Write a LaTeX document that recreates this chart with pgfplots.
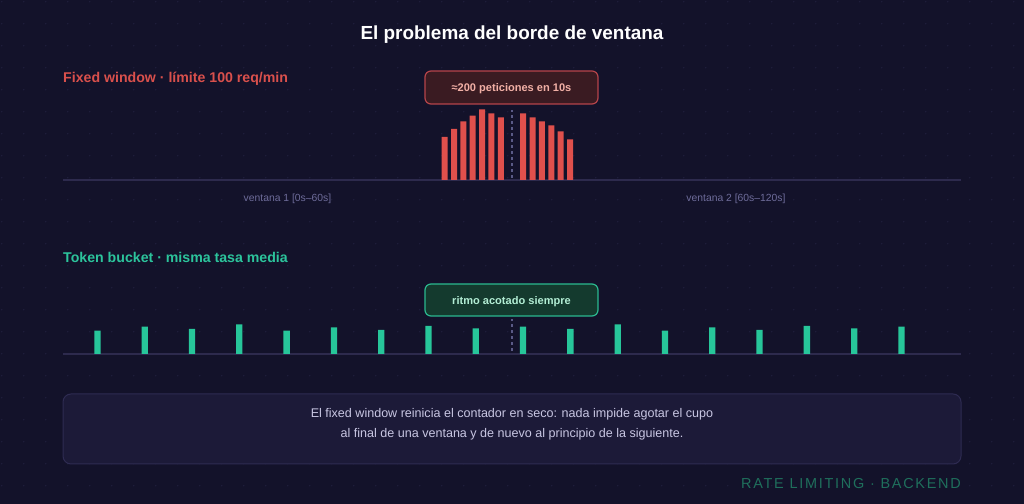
\documentclass[border=0pt]{standalone}
\usepackage{pgfplots}
\pgfplotsset{compat=1.18}
\usepackage{fontspec}
\setmainfont{Liberation Sans}
\definecolor{bg}{HTML}{13122A}
\definecolor{dotc}{HTML}{201F3C}
\definecolor{basec}{HTML}{2D2A4D}
\definecolor{redc}{HTML}{E0504C}
\definecolor{redlab}{HTML}{D9504C}
\definecolor{redboxf}{HTML}{3A1B22}
\definecolor{redboxd}{HTML}{B5444A}
\definecolor{redtxt}{HTML}{F2B0A6}
\definecolor{grnc}{HTML}{27C69A}
\definecolor{grnlab}{HTML}{2CC49C}
\definecolor{grnboxf}{HTML}{143A2E}
\definecolor{grnboxd}{HTML}{2BB88F}
\definecolor{grntxt}{HTML}{B2EDD4}
\definecolor{dashc}{HTML}{5A5A86}
\definecolor{wintxt}{HTML}{6E6C9A}
\definecolor{boxf}{HTML}{1C1A38}
\definecolor{boxd}{HTML}{2E2B52}
\definecolor{boxtxt}{HTML}{C8C6E2}
\definecolor{foot}{HTML}{1F6F5C}
\begin{document}
\begin{tikzpicture}[x=1bp,y=1bp]
\fill[bg] (0,0) rectangle (1024,504);
\useasboundingbox (0,0) rectangle (1024,504);
\foreach \i in {0,...,46} {\foreach \j in {0,...,22} {\fill[dotc] (\i*22+1.7, 504-\j*22-1.7) circle (0.8);}}
% title
\node[inner sep=0, font=\fontsize{19}{22}\selectfont\bfseries, text=white] at (512, 469) {El problema del borde de ventana};
% section labels
\node[anchor=west, inner sep=0, font=\fontsize{14.2}{16}\selectfont\bfseries, text=redlab] at (63, 425) {Fixed window · límite 100 req/min};
\node[anchor=west, inner sep=0, font=\fontsize{14.2}{16}\selectfont\bfseries, text=grnlab] at (63, 247) {Token bucket · misma tasa media};
% window labels
\node[inner sep=0, font=\fontsize{10.4}{12}\selectfont, text=wintxt] at (287.5, 305) {ventana 1 [0s–60s]};
\node[inner sep=0, font=\fontsize{10.4}{12}\selectfont, text=wintxt] at (736, 305) {ventana 2 [60s–120s]};
% top axis
\begin{axis}[at={(63bp,324bp)}, anchor=origin, scale only axis, width=898bp, height=100bp,
  xmin=0, xmax=120, ymin=0, ymax=100, hide axis, clip=false,
  ybar, bar width=6bp, bar shift=0pt]
\draw[basec, line width=1.5bp] (axis cs:0,0) -- (axis cs:120,0);
\addplot[fill=redc, draw=none] coordinates {
(51,43) (52.25,51) (53.5,58.7) (54.75,64.3) (56,70.7) (57.25,66.7) (58.5,62.7)
(61.5,66.7) (62.75,62.7) (64,58.7) (65.25,54.7) (66.5,48.7) (67.75,40.7)};
\draw[dashc, line width=1.5bp, dash pattern=on 3bp off 3bp] (axis cs:60,2) -- (axis cs:60,70);
\end{axis}
% bottom axis
\begin{axis}[at={(63bp,150bp)}, anchor=origin, scale only axis, width=898bp, height=100bp,
  xmin=0, xmax=120, ymin=0, ymax=100, hide axis, clip=false,
  ybar, bar width=6.3bp, bar shift=0pt]
\draw[basec, line width=1.5bp] (axis cs:0,0) -- (axis cs:120,0);
\addplot[fill=grnc, draw=none] coordinates {
(4.6,23.3) (10.92,27.3) (17.24,25) (23.56,29.7) (29.88,23.3) (36.2,26.7) (42.52,24) (48.84,28) (55.16,25.7)
(61.48,27.3) (67.8,25) (74.12,29.7) (80.44,23.3) (86.76,26.7) (93.08,24) (99.4,28) (105.72,25.7) (112.04,27.3)};
\draw[dashc, line width=1.5bp, dash pattern=on 3bp off 3bp] (axis cs:60,3) -- (axis cs:60,35);
\end{axis}
% callout boxes
\draw[rounded corners=6, fill=redboxf, draw=redboxd, line width=1.2bp] (425,433) rectangle (598,400);
\node[inner sep=0, font=\fontsize{11.1}{13}\selectfont\bfseries, text=redtxt] at (511.5,415) {≈200 peticiones en 10s};
\draw[rounded corners=6, fill=grnboxf, draw=grnboxd, line width=1.2bp] (425,220) rectangle (598,188);
\node[inner sep=0, font=\fontsize{11.1}{13}\selectfont\bfseries, text=grntxt] at (511.5,202.5) {ritmo acotado siempre};
% bottom note
\draw[rounded corners=8, fill=boxf, draw=boxd, line width=1bp] (63,110) rectangle (961,40);
\node[inner sep=0, font=\fontsize{12.6}{14}\selectfont, text=boxtxt] at (512,89.5) {El fixed window reinicia el contador en seco: nada impide agotar el cupo};
\node[inner sep=0, font=\fontsize{12.6}{14}\selectfont, text=boxtxt] at (512,69.5) {al final de una ventana y de nuevo al principio de la siguiente.};
% footer
\node[anchor=east, inner sep=0, font=\fontsize{14.5}{16}\selectfont\addfontfeature{LetterSpace=12}, text=foot] at (961,20) {RATE LIMITING · BACKEND};
\end{tikzpicture}
\end{document}
